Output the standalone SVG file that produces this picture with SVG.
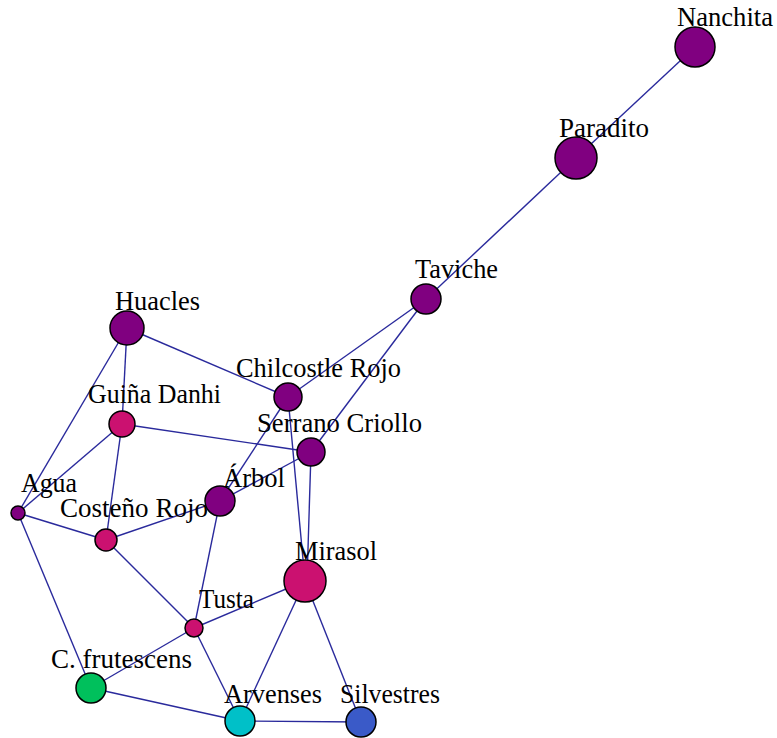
<svg xmlns="http://www.w3.org/2000/svg" width="777" height="738" viewBox="0 0 777 738">
<style>
.e{stroke:#2a2a9c;stroke-width:1.4;fill:none}
.n{stroke:#000;stroke-width:1.5}
.p{fill:#800080}
.m{fill:#cb1170}
.g{fill:#00c05c}
.c{fill:#00c0c8}
.b{fill:#3a5ac8}
text{font-family:"Liberation Serif","Times New Roman",serif;font-size:28px;fill:#000}
</style>
<rect width="777" height="738" fill="#fff"/>
<g id="connectors">
<line class="e" x1="695" y1="47" x2="576" y2="158"/>
<line class="e" x1="576" y1="158" x2="426" y2="299"/>
<line class="e" x1="426" y1="299" x2="288" y2="397"/>
<line class="e" x1="426" y1="299" x2="311" y2="452"/>
<line class="e" x1="127" y1="328" x2="288" y2="397"/>
<line class="e" x1="127" y1="328" x2="122" y2="424"/>
<line class="e" x1="127" y1="328" x2="18" y2="513"/>
<line class="e" x1="122" y1="424" x2="311" y2="452"/>
<line class="e" x1="122" y1="424" x2="18" y2="513"/>
<line class="e" x1="122" y1="424" x2="106" y2="540"/>
<line class="e" x1="288" y1="397" x2="220" y2="501"/>
<line class="e" x1="288" y1="397" x2="305" y2="581"/>
<line class="e" x1="311" y1="452" x2="220" y2="501"/>
<line class="e" x1="311" y1="452" x2="307" y2="581"/>
<line class="e" x1="220" y1="501" x2="106" y2="540"/>
<line class="e" x1="220" y1="501" x2="194" y2="628"/>
<line class="e" x1="18" y1="513" x2="106" y2="540"/>
<line class="e" x1="18" y1="513" x2="91" y2="688"/>
<line class="e" x1="106" y1="540" x2="194" y2="628"/>
<line class="e" x1="194" y1="628" x2="305" y2="581"/>
<line class="e" x1="194" y1="628" x2="91" y2="688"/>
<line class="e" x1="194" y1="628" x2="240" y2="721"/>
<line class="e" x1="305" y1="581" x2="240" y2="721"/>
<line class="e" x1="305" y1="581" x2="361" y2="722"/>
<line class="e" x1="91" y1="688" x2="240" y2="721"/>
<line class="e" x1="240" y1="721" x2="361" y2="722"/>
</g>
<g id="nanchita"><circle class="n p" cx="695" cy="47" r="20"/><text x="677" y="26" textLength="96" lengthAdjust="spacingAndGlyphs">Nanchita</text></g>
<g id="paradito"><circle class="n p" cx="576" cy="158" r="21"/><text x="559" y="137" textLength="90" lengthAdjust="spacingAndGlyphs">Paradito</text></g>
<g id="taviche"><circle class="n p" cx="426" cy="299" r="15"/><text x="415" y="278" textLength="83" lengthAdjust="spacingAndGlyphs">Taviche</text></g>
<g id="huacles"><circle class="n p" cx="127" cy="328" r="17"/><text x="115" y="310" textLength="85" lengthAdjust="spacingAndGlyphs">Huacles</text></g>
<g id="chilcostle-rojo"><circle class="n p" cx="288" cy="397" r="14"/><text x="236" y="377" textLength="165" lengthAdjust="spacingAndGlyphs">Chilcostle Rojo</text></g>
<g id="guina-danhi"><circle class="n m" cx="122" cy="424" r="13"/><text x="88" y="403" textLength="133" lengthAdjust="spacingAndGlyphs">Guiña Danhi</text></g>
<g id="serrano-criollo"><circle class="n p" cx="311" cy="452" r="14"/><text x="257" y="432" textLength="165" lengthAdjust="spacingAndGlyphs">Serrano Criollo</text></g>
<g id="arbol"><circle class="n p" cx="220" cy="501" r="15"/><text x="223" y="487" textLength="62" lengthAdjust="spacingAndGlyphs">Árbol</text></g>
<g id="agua"><circle class="n p" cx="18" cy="513" r="7"/><text x="21" y="492" textLength="56" lengthAdjust="spacingAndGlyphs">Agua</text></g>
<g id="costeno-rojo"><circle class="n m" cx="106" cy="540" r="11"/><text x="60" y="517" textLength="148" lengthAdjust="spacingAndGlyphs">Costeño Rojo</text></g>
<g id="mirasol"><circle class="n m" cx="305" cy="581" r="21"/><text x="295" y="560" textLength="82" lengthAdjust="spacingAndGlyphs">Mirasol</text></g>
<g id="tusta"><circle class="n m" cx="194" cy="628" r="9"/><text x="199" y="608" textLength="55" lengthAdjust="spacingAndGlyphs">Tusta</text></g>
<g id="c-frutescens"><circle class="n g" cx="91" cy="688" r="15"/><text x="51" y="668" textLength="141" lengthAdjust="spacingAndGlyphs">C. frutescens</text></g>
<g id="arvenses"><circle class="n c" cx="240" cy="721" r="15"/><text x="224" y="703" textLength="98" lengthAdjust="spacingAndGlyphs">Arvenses</text></g>
<g id="silvestres"><circle class="n b" cx="361" cy="722" r="15"/><text x="340" y="703" textLength="100" lengthAdjust="spacingAndGlyphs">Silvestres</text></g>
</svg>
